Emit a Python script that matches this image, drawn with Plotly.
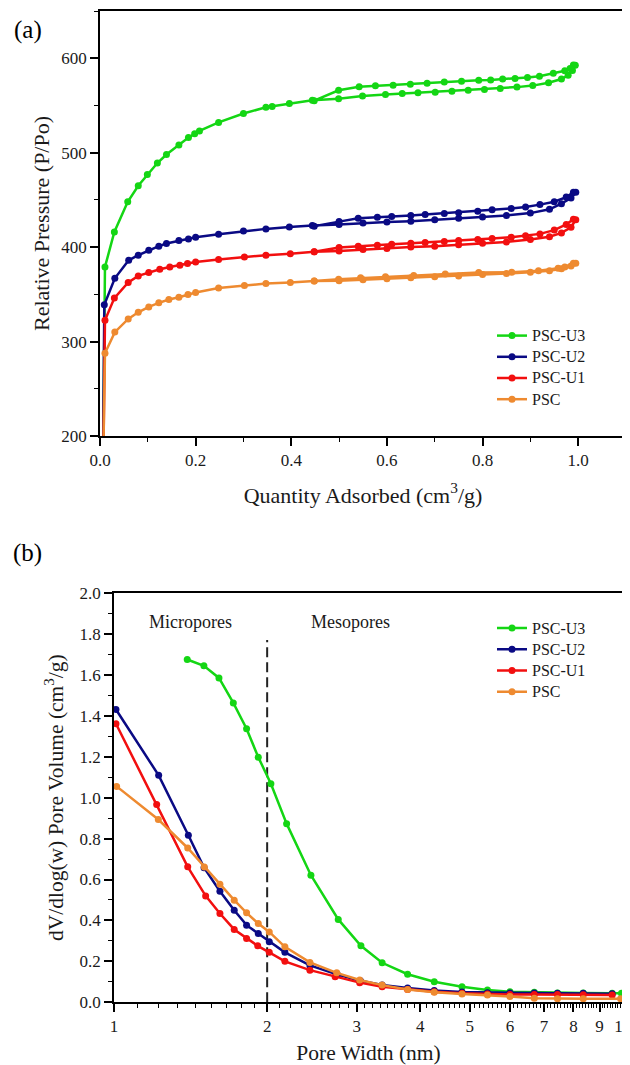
import math
import plotly.graph_objects as go

# ---------------- (a) isotherms ----------------
series_names = ["PSC-U3", "PSC-U2", "PSC-U1", "PSC"]
series_colors = ["#14d614", "#0a0a84", "#f20f0f", "#ee8a30"]

u3_ads_x = [0.006, 0.0104, 0.030, 0.058, 0.080, 0.099, 0.120, 0.139, 0.165, 0.185, 0.198, 0.208, 0.248, 0.300,
            0.347, 0.360, 0.396, 0.444, 0.499, 0.549, 0.597, 0.632, 0.665, 0.701, 0.736, 0.770, 0.804, 0.837,
            0.872, 0.905, 0.938, 0.965, 0.979, 0.988, 0.994]
u3_ads_y = [150, 379, 416, 448, 465, 477, 489, 498, 508, 516, 520, 523, 532, 541.5,
            548, 549, 552, 555.6, 557, 560, 561.7, 562.7, 563.4, 564, 565, 566, 567, 568,
            569.4, 571, 574, 578, 582, 587, 592.5]
u3_des_x = [0.990, 0.983, 0.972, 0.948, 0.919, 0.894, 0.868, 0.842, 0.817, 0.792, 0.756, 0.720, 0.684, 0.649,
            0.613, 0.576, 0.542, 0.499, 0.448]
u3_des_y = [592.7, 589, 586.7, 584, 581, 579.7, 578.6, 578, 577, 576.8, 575.7, 574.7, 573.6, 572.5,
            571.5, 570.8, 569.7, 566, 555]

u2_ads_x = [0.006, 0.009, 0.031, 0.060, 0.080, 0.102, 0.123, 0.139, 0.165, 0.185, 0.200, 0.248, 0.300, 0.347,
            0.396, 0.444, 0.500, 0.550, 0.600, 0.650, 0.700, 0.750, 0.800, 0.850, 0.900, 0.940, 0.965, 0.985, 0.995]
u2_ads_y = [150, 339, 367, 386, 391.4, 396.7, 401, 403.8, 407, 408.7, 410.5, 413.7, 417, 419.3,
            421.4, 423, 424, 425.5, 426.5, 427.5, 429, 430.5, 432, 433.5, 436, 440, 446, 452, 458]
u2_des_x = [0.990, 0.975, 0.950, 0.920, 0.890, 0.860, 0.820, 0.790, 0.750, 0.720, 0.680, 0.650, 0.610, 0.580,
            0.540, 0.500, 0.448]
u2_des_y = [458, 453, 448, 445, 442.5, 441, 439.5, 438, 436.5, 435.5, 434.5, 433.5, 432.5, 431.5,
            430.5, 427, 422]

u1_ads_x = [0.0065, 0.0104, 0.030, 0.059, 0.080, 0.102, 0.125, 0.146, 0.167, 0.183, 0.200, 0.248, 0.302, 0.347,
            0.398, 0.448, 0.500, 0.550, 0.600, 0.650, 0.700, 0.750, 0.800, 0.850, 0.900, 0.940, 0.965, 0.985, 0.995]
u1_ads_y = [150, 322.5, 346, 362.5, 369.5, 373, 376.6, 379, 380.8, 382.6, 384.3, 387, 389.6, 391.4,
            393, 395, 396, 397.5, 398.5, 400, 401, 402.5, 404, 405.5, 408, 411, 415, 421, 429]
u1_des_x = [0.990, 0.975, 0.950, 0.920, 0.890, 0.860, 0.820, 0.790, 0.750, 0.720, 0.680, 0.650, 0.610, 0.580,
            0.540, 0.500, 0.448]
u1_des_y = [429.6, 424, 418, 414, 412, 410.5, 409, 408, 407, 406, 405, 404, 403, 402,
            401, 399.5, 395]

psc_ads_x = [0.006, 0.0104, 0.031, 0.059, 0.080, 0.102, 0.123, 0.144, 0.165, 0.184, 0.200, 0.248, 0.302, 0.347,
             0.398, 0.448, 0.500, 0.550, 0.600, 0.650, 0.700, 0.750, 0.800, 0.850, 0.900, 0.940, 0.965, 0.985, 0.995]
psc_ads_y = [150, 287.6, 310, 324, 331, 336.7, 341, 344.5, 347, 349.8, 352, 356.8, 359.3, 361.4,
             362.5, 364, 364.5, 365.5, 366.5, 367.5, 368.5, 369.5, 371, 372, 373.5, 375, 377, 380, 383]
psc_des_x = [0.990, 0.972, 0.958, 0.917, 0.861, 0.792, 0.722, 0.656, 0.597, 0.545, 0.499, 0.448]
psc_des_y = [383, 379, 377.5, 375, 373.5, 373, 371.5, 370, 368.5, 367.5, 366, 364]

iso_x = [u3_ads_x + u3_des_x, u2_ads_x + u2_des_x, u1_ads_x + u1_des_x, psc_ads_x + psc_des_x]
iso_y = [u3_ads_y + u3_des_y, u2_ads_y + u2_des_y, u1_ads_y + u1_des_y, psc_ads_y + psc_des_y]

# ---------------- (b) pore size distribution ----------------
u3_w = [1.393, 1.502, 1.608, 1.716, 1.822, 1.921, 2.034, 2.184, 2.438, 2.759, 3.057, 3.365, 3.776, 4.26,
        4.83, 5.42, 6.0, 6.7, 7.44, 8.36, 9.53, 9.94]
u3_v = [1.675, 1.644, 1.585, 1.463, 1.337, 1.198, 1.068, 0.873, 0.621, 0.405, 0.276, 0.193, 0.137, 0.1005,
        0.076, 0.06, 0.052, 0.049, 0.046, 0.045, 0.044, 0.044]
u2_w = [1.009, 1.224, 1.40, 1.503, 1.615, 1.723, 1.822, 1.921, 2.019, 2.167, 2.427, 2.75, 3.05, 3.365,
        3.776, 4.26, 4.83, 5.42, 6.0, 6.7, 7.44, 8.36, 9.53]
u2_v = [1.431, 1.109, 0.816, 0.658, 0.543, 0.45, 0.377, 0.336, 0.296, 0.244, 0.18, 0.135, 0.105, 0.085,
        0.07, 0.058, 0.05, 0.047, 0.046, 0.045, 0.044, 0.044, 0.042]
u1_w = [1.009, 1.213, 1.396, 1.514, 1.615, 1.723, 1.822, 1.916, 2.019, 2.167, 2.427, 2.72, 3.04, 3.365,
        3.776, 4.26, 4.83, 5.42, 6.0, 6.7, 7.44, 8.36, 9.53]
u1_v = [1.361, 0.966, 0.662, 0.52, 0.434, 0.356, 0.312, 0.276, 0.244, 0.2, 0.157, 0.125, 0.096, 0.076,
        0.063, 0.052, 0.044, 0.04, 0.038, 0.038, 0.038, 0.037, 0.036]
psc_w = [1.012, 1.222, 1.396, 1.505, 1.615, 1.723, 1.822, 1.921, 2.019, 2.167, 2.427, 2.74, 3.04, 3.365,
         3.776, 4.26, 4.83, 5.42, 6.0, 6.7, 7.44, 8.36, 9.9]
psc_v = [1.055, 0.893, 0.754, 0.661, 0.577, 0.499, 0.437, 0.385, 0.344, 0.271, 0.195, 0.144, 0.109, 0.084,
         0.063, 0.049, 0.041, 0.036, 0.028, 0.02, 0.017, 0.017, 0.017]

psd_w = [u3_w, u2_w, u1_w, psc_w]
psd_v = [u3_v, u2_v, u1_v, psc_v]

divider_w = [2, 2]
divider_v = [0, 1.77]

x_ticks_b = [1, 2, 3, 4, 5, 6, 7, 8, 9, 10]

FONT = "Liberation Serif, Times New Roman, Tinos, DejaVu Serif, serif"
TXT = "#1a1a1a"

# page is offset by the browser's default 8px body margin
W, H = 622, 1057
OFF = 8


def px(xp):
    return (xp - OFF) / W


def py(yp):
    return 1 - (yp - OFF) / H


def legend_label(name):
    return '<span style="font-size:16px">' + name + '</span>'


fig = go.Figure()

for name, col, xs, ys in zip(series_names, series_colors, iso_x, iso_y):
    fig.add_trace(go.Scatter(
        x=xs, y=ys, mode="lines+markers", name=legend_label(name),
        line=dict(color=col, width=2.5), marker=dict(color=col, size=7),
        xaxis="x", yaxis="y", legend="legend"))

fig.add_trace(go.Scatter(
    x=divider_w, y=divider_v, mode="lines", showlegend=False,
    line=dict(color="#222222", width=2, dash="10px,5px"),
    xaxis="x2", yaxis="y2", hoverinfo="skip"))

for name, col, xs, ys in zip(series_names, series_colors, psd_w, psd_v):
    fig.add_trace(go.Scatter(
        x=xs, y=ys, mode="lines+markers", name=legend_label(name),
        line=dict(color=col, width=2.5), marker=dict(color=col, size=7),
        xaxis="x2", yaxis="y2", legend="legend2"))

minor_b = [n + k / 9 for n in range(1, 10) for k in range(1, 9)]

axis_common = dict(
    showgrid=False, zeroline=False, showline=True, linecolor="black", linewidth=1.5,
    mirror=True, ticks="outside", ticklen=8, tickwidth=1.5, tickcolor="black",
    tickfont=dict(family=FONT, size=17, color=TXT), automargin=False,
)
minor_common = dict(ticks="outside", ticklen=4, tickwidth=1.3, tickcolor="black")

fig.update_layout(
    width=W, height=H,
    margin=dict(l=0, r=0, t=0, b=0, autoexpand=False),
    paper_bgcolor="white", plot_bgcolor="white",
    font=dict(family=FONT, size=17, color="black"),
    xaxis=dict(
        domain=[px(100), px(626)], anchor="y", range=[0, 1.1],
        tick0=0, dtick=0.2, tickformat=".1f",
        minor=dict(dtick=0.1, **minor_common),
        title=dict(text="Quantity Adsorbed (cm<sup>3</sup>/g)", font=dict(family=FONT, size=22, color=TXT), standoff=18),
        **axis_common),
    yaxis=dict(
        domain=[py(436), py(11)], anchor="x", range=[200, 650],
        tick0=0, dtick=100,
        minor=dict(dtick=50, **minor_common),
        title=dict(text="Relative Pressure (P/Po)", font=dict(family=FONT, size=22, color=TXT), standoff=6),
        **axis_common),
    xaxis2=dict(
        domain=[px(114), px(623)], anchor="y2", type="log", range=[0, 1.0004],
        tickvals=x_ticks_b, ticktext=[str(v) for v in x_ticks_b], ticklabeloverflow="allow",
        minor=dict(tickvals=minor_b, **minor_common),
        title=dict(text="Pore Width (nm)", font=dict(family=FONT, size=21.5, color=TXT), standoff=12),
        **axis_common),
    yaxis2=dict(
        domain=[py(1002.3), py(593)], anchor="x2", range=[0, 2],
        tick0=0, dtick=0.2, tickformat=".1f",
        minor=dict(dtick=0.1, **minor_common),
        title=dict(text="dV/dlog(w) Pore Volume (cm<sup>3</sup>/g)", font=dict(family=FONT, size=21.5, color=TXT), standoff=10),
        **axis_common),
    legend=dict(x=px(492), y=py(320), xanchor="left", yanchor="top",
                bgcolor="rgba(0,0,0,0)", font=dict(family=FONT, size=14, color=TXT),
                tracegroupgap=0),
    legend2=dict(x=px(492), y=py(612.5), xanchor="left", yanchor="top",
                 bgcolor="rgba(0,0,0,0)", font=dict(family=FONT, size=14, color=TXT),
                 tracegroupgap=0),
    annotations=[
        dict(text="(a)", xref="paper", yref="paper", x=px(27.5), y=py(30),
             xanchor="center", yanchor="middle", showarrow=False,
             font=dict(family=FONT, size=25, color="black")),
        dict(text="(b)", xref="paper", yref="paper", x=px(27.5), y=py(553),
             xanchor="center", yanchor="middle", showarrow=False,
             font=dict(family=FONT, size=25, color="black")),
        dict(text="Micropores", xref="x2", yref="y2", x=math.log10(1.416), y=1.86,
             xanchor="center", yanchor="middle", showarrow=False,
             font=dict(family=FONT, size=18, color=TXT)),
        dict(text="Mesopores", xref="x2", yref="y2", x=math.log10(2.915), y=1.86,
             xanchor="center", yanchor="middle", showarrow=False,
             font=dict(family=FONT, size=18, color=TXT)),
    ],
)

fig.write_html("out.html")
